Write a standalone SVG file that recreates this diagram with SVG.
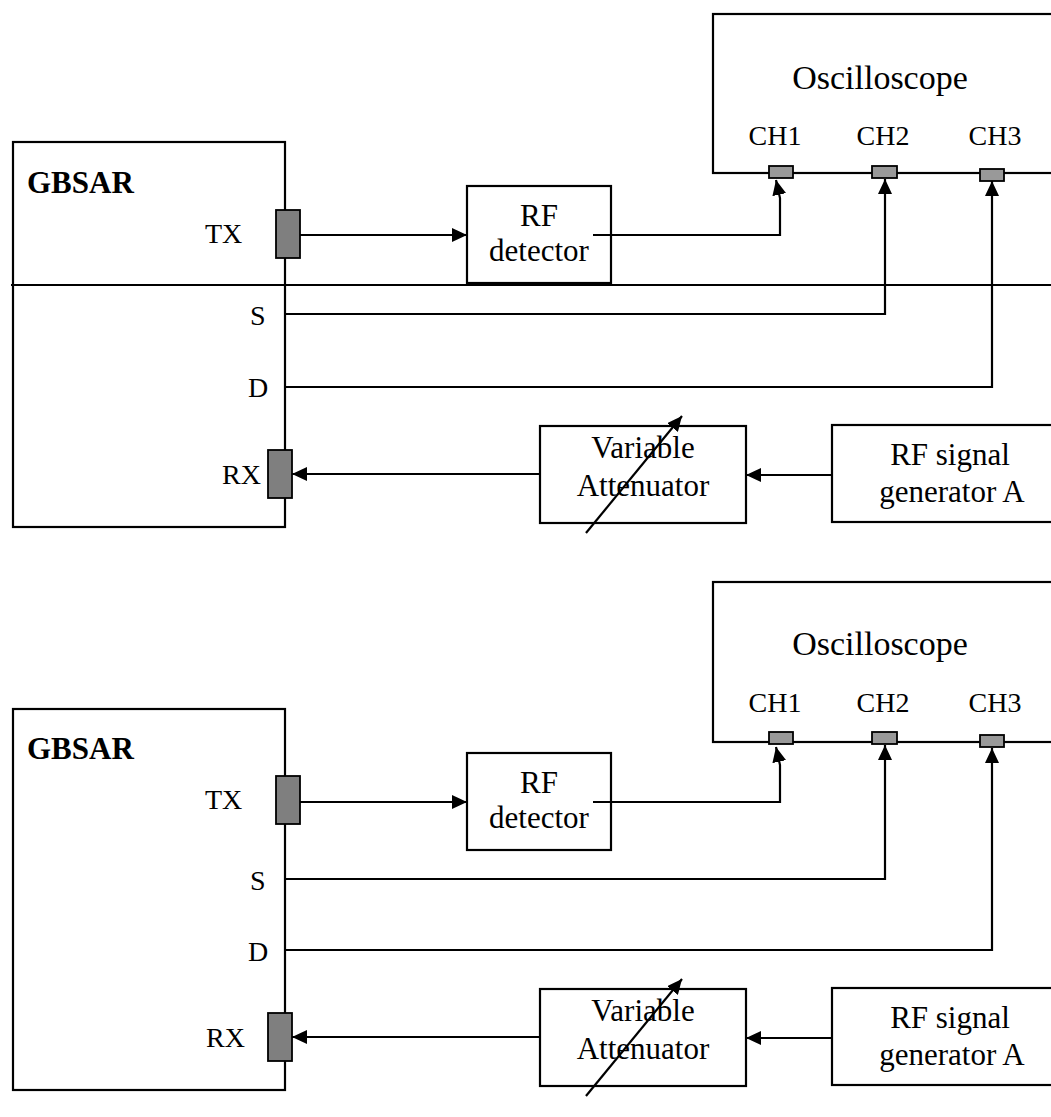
<svg xmlns="http://www.w3.org/2000/svg" width="1051" height="1117" viewBox="0 0 1051 1117">
<defs>
<style>
.box{fill:#fff;stroke:#000;stroke-width:2.2}
.ln{fill:none;stroke:#000;stroke-width:2.2}
.port{fill:#7f7f7f;stroke:#000;stroke-width:1.8}
.chp{fill:#999;stroke:#000;stroke-width:1.8}
text{font-family:"Liberation Serif","Times New Roman",serif;fill:#000}
.t28{font-size:28px}
.t31{font-size:31px}
.t34{font-size:34px}
.b{font-size:31px;font-weight:bold}
.m{text-anchor:middle}
</style>
<marker id="ah" markerUnits="userSpaceOnUse" markerWidth="15" markerHeight="14" refX="15" refY="7" orient="auto" viewBox="0 0 15 14">
<path d="M0,0 L15,7 L0,14 z" fill="#000"/>
</marker>
</defs>

<!-- ===== TOP PANEL ===== -->
<g id="top-gbsar">
<rect class="box" x="13" y="142" width="272" height="385"/>
<text class="b" x="27" y="193">GBSAR</text>
<text class="t28" x="205" y="243">TX</text>
<text class="t28" x="250" y="325">S</text>
<text class="t28" x="248" y="397">D</text>
<text class="t28" x="222" y="484">RX</text>
</g>
<line id="top-divider" class="ln" x1="11" y1="285" x2="1051" y2="285"/>
<g id="top-osc">
<rect class="box" x="713" y="14" width="360" height="159"/>
<text class="t34 m" x="880" y="89">Oscilloscope</text>
<text class="t28 m" x="775" y="145">CH1</text>
<text class="t28 m" x="883" y="145">CH2</text>
<text class="t28 m" x="995" y="145">CH3</text>
</g>
<g id="top-rfdet">
<rect class="box" x="467" y="186" width="144" height="97"/>
<text class="t31 m" x="539" y="226">RF</text>
<text class="t31 m" x="539" y="261">detector</text>
</g>
<g id="top-att">
<rect class="box" x="540" y="426" width="206" height="97"/>
<text class="t31 m" x="643" y="458">Variable</text>
<text class="t31 m" x="643" y="496">Attenuator</text>
</g>
<g id="top-gen">
<rect class="box" x="832" y="425" width="240" height="97"/>
<text class="t31 m" x="950" y="465">RF signal</text>
<text class="t31 m" x="952" y="502">generator A</text>
</g>
<g id="top-connectors">
<line class="ln" x1="300" y1="235" x2="467" y2="235" marker-end="url(#ah)"/>
<path class="ln" d="M593,235 H780 V198 L776,180" marker-end="url(#ah)"/>
<path class="ln" d="M285,314 H885 V179" marker-end="url(#ah)"/>
<path class="ln" d="M285,387 H992 V181" marker-end="url(#ah)"/>
<line class="ln" x1="540" y1="474" x2="292" y2="474" marker-end="url(#ah)"/>
<line class="ln" x1="832" y1="475" x2="746" y2="475" marker-end="url(#ah)"/>
<line class="ln" x1="586" y1="533" x2="682" y2="416" marker-end="url(#ah)"/>
</g>
<g id="top-ports">
<rect class="port" x="276" y="210" width="24" height="48"/>
<rect class="port" x="268" y="450" width="24" height="48"/>
<rect class="chp" x="769" y="166" width="24" height="12"/>
<rect class="chp" x="872" y="166" width="25" height="12"/>
<rect class="chp" x="980" y="169" width="24" height="12"/>
</g>

<!-- ===== BOTTOM PANEL ===== -->
<g id="bot-gbsar">
<rect class="box" x="13" y="709" width="272" height="381"/>
<text class="b" x="27" y="759">GBSAR</text>
<text class="t28" x="205" y="809">TX</text>
<text class="t28" x="250" y="890">S</text>
<text class="t28" x="248" y="961">D</text>
<text class="t28" x="206" y="1047">RX</text>
</g>
<g id="bot-osc">
<rect class="box" x="713" y="582" width="360" height="160"/>
<text class="t34 m" x="880" y="655">Oscilloscope</text>
<text class="t28 m" x="775" y="712">CH1</text>
<text class="t28 m" x="883" y="712">CH2</text>
<text class="t28 m" x="995" y="712">CH3</text>
</g>
<g id="bot-rfdet">
<rect class="box" x="467" y="753" width="144" height="97"/>
<text class="t31 m" x="539" y="793">RF</text>
<text class="t31 m" x="539" y="828">detector</text>
</g>
<g id="bot-att">
<rect class="box" x="540" y="989" width="206" height="97"/>
<text class="t31 m" x="643" y="1021">Variable</text>
<text class="t31 m" x="643" y="1059">Attenuator</text>
</g>
<g id="bot-gen">
<rect class="box" x="832" y="988" width="240" height="97"/>
<text class="t31 m" x="950" y="1028">RF signal</text>
<text class="t31 m" x="952" y="1065">generator A</text>
</g>
<g id="bot-connectors">
<line class="ln" x1="300" y1="802" x2="467" y2="802" marker-end="url(#ah)"/>
<path class="ln" d="M593,802 H780 V765 L776,747" marker-end="url(#ah)"/>
<path class="ln" d="M285,879 H885 V745" marker-end="url(#ah)"/>
<path class="ln" d="M285,950 H992 V748" marker-end="url(#ah)"/>
<line class="ln" x1="540" y1="1037" x2="292" y2="1037" marker-end="url(#ah)"/>
<line class="ln" x1="832" y1="1038" x2="746" y2="1038" marker-end="url(#ah)"/>
<line class="ln" x1="586" y1="1096" x2="682" y2="979" marker-end="url(#ah)"/>
</g>
<g id="bot-ports">
<rect class="port" x="276" y="776" width="24" height="48"/>
<rect class="port" x="268" y="1013" width="24" height="48"/>
<rect class="chp" x="769" y="732" width="24" height="12"/>
<rect class="chp" x="872" y="732" width="25" height="12"/>
<rect class="chp" x="980" y="735" width="24" height="12"/>
</g>
</svg>
